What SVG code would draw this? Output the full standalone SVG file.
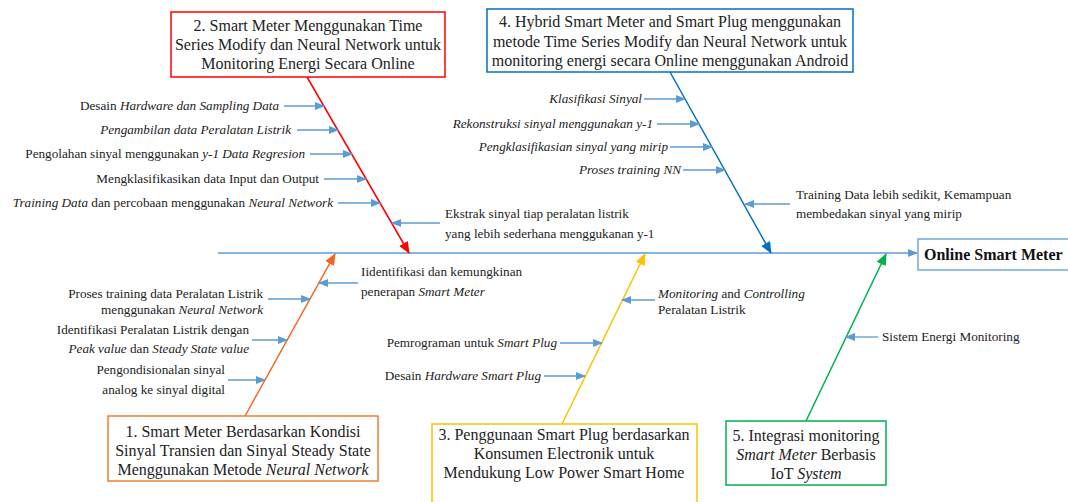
<svg xmlns="http://www.w3.org/2000/svg" width="1068" height="502" viewBox="0 0 1068 502">
<defs>
<style>
.box{fill:#fff;stroke-width:1.5}
.bt{font-family:"Liberation Serif","Times New Roman",serif;font-size:16px;fill:#222;text-anchor:middle}
.rt{font-family:"Liberation Serif","Times New Roman",serif;font-size:13.2px;fill:#222}
.end{text-anchor:end}
.i{font-style:italic}
.rib{stroke:#5B9BD5;stroke-width:1.3;fill:none;marker-end:url(#ah)}
</style>
<marker id="ah" markerUnits="userSpaceOnUse" markerWidth="10" markerHeight="8" refX="9" refY="4" orient="auto"><path d="M0,0 L10,4 L0,8 Z" fill="#5B9BD5"/></marker>
<marker id="aR" markerUnits="userSpaceOnUse" markerWidth="12" markerHeight="10" refX="11" refY="5" orient="auto"><path d="M0,0 L12,5 L0,10 Z" fill="#FF0000"/></marker>
<marker id="aB" markerUnits="userSpaceOnUse" markerWidth="12" markerHeight="10" refX="11" refY="5" orient="auto"><path d="M0,0 L12,5 L0,10 Z" fill="#0070C0"/></marker>
<marker id="aO" markerUnits="userSpaceOnUse" markerWidth="12" markerHeight="10" refX="11" refY="5" orient="auto"><path d="M0,0 L12,5 L0,10 Z" fill="#F26522"/></marker>
<marker id="aY" markerUnits="userSpaceOnUse" markerWidth="12" markerHeight="10" refX="11" refY="5" orient="auto"><path d="M0,0 L12,5 L0,10 Z" fill="#FFC000"/></marker>
<marker id="aG" markerUnits="userSpaceOnUse" markerWidth="12" markerHeight="10" refX="11" refY="5" orient="auto"><path d="M0,0 L12,5 L0,10 Z" fill="#00B050"/></marker>
</defs>
<rect width="1068" height="502" fill="#fff"/>

<g id="connectors">
<line x1="218" y1="253" x2="917" y2="253" class="rib"/>
<line x1="307" y1="77" x2="409" y2="253" stroke="#FF0000" stroke-width="1.5" marker-end="url(#aR)"/>
<line x1="670" y1="72" x2="771" y2="253" stroke="#0070C0" stroke-width="1.5" marker-end="url(#aB)"/>
<line x1="245" y1="416" x2="335" y2="254" stroke="#F26522" stroke-width="1.5" marker-end="url(#aO)"/>
<line x1="562" y1="424" x2="645" y2="254" stroke="#FFC000" stroke-width="1.5" marker-end="url(#aY)"/>
<line x1="806" y1="421" x2="886" y2="254" stroke="#00B050" stroke-width="1.5" marker-end="url(#aG)"/>
<line x1="284" y1="106" x2="324" y2="106" class="rib"/>
<line x1="297" y1="130" x2="338" y2="130" class="rib"/>
<line x1="310" y1="154" x2="352" y2="154" class="rib"/>
<line x1="324" y1="179" x2="366" y2="179" class="rib"/>
<line x1="338" y1="203" x2="380" y2="203" class="rib"/>
<line x1="440" y1="223" x2="392" y2="223" class="rib"/>
<line x1="644" y1="99" x2="685" y2="99" class="rib"/>
<line x1="657" y1="124" x2="699" y2="124" class="rib"/>
<line x1="670" y1="147" x2="712" y2="147" class="rib"/>
<line x1="683" y1="170" x2="725" y2="170" class="rib"/>
<line x1="790" y1="204" x2="745" y2="204" class="rib"/>
<line x1="268" y1="299" x2="310" y2="299" class="rib"/>
<line x1="252" y1="340" x2="287" y2="340" class="rib"/>
<line x1="228" y1="380" x2="265" y2="380" class="rib"/>
<line x1="358" y1="283" x2="319" y2="283" class="rib"/>
<line x1="655" y1="300" x2="622" y2="300" class="rib"/>
<line x1="560" y1="343" x2="602" y2="343" class="rib"/>
<line x1="544" y1="376" x2="585" y2="376" class="rib"/>
<line x1="878" y1="337" x2="846" y2="337" class="rib"/>
</g>

<g id="node-2">
<rect class="box" x="171" y="12" width="274" height="65" stroke="#FF0000"/>
<text class="bt" x="308" y="31">2. Smart Meter Menggunakan Time</text>
<text class="bt" x="308" y="50">Series Modify dan Neural Network untuk</text>
<text class="bt" x="308" y="69">Monitoring Energi Secara Online</text>
</g>
<g id="node-4">
<rect class="box" x="487" y="9" width="366" height="63" stroke="#0070C0"/>
<text class="bt" x="670" y="27">4. Hybrid Smart Meter and Smart Plug menggunakan</text>
<text class="bt" x="670" y="47">metode Time Series Modify dan Neural Network untuk</text>
<text class="bt" x="670" y="66">monitoring energi secara Online menggunakan Android</text>
</g>
<g id="node-1">
<rect class="box" x="108" y="416" width="270" height="65" stroke="#ED7D31"/>
<text class="bt" x="243" y="437">1. Smart Meter Berdasarkan Kondisi</text>
<text class="bt" x="243" y="456">Sinyal Transien dan Sinyal Steady State</text>
<text class="bt" x="243" y="475">Menggunakan Metode <tspan class="i">Neural Network</tspan></text>
</g>
<g id="node-3">
<rect class="box" x="432" y="424" width="265" height="80" stroke="#FFC000"/>
<text class="bt" x="564" y="440">3. Penggunaan Smart Plug berdasarkan</text>
<text class="bt" x="564" y="459">Konsumen Electronik untuk</text>
<text class="bt" x="564" y="478">Mendukung Low Power Smart Home</text>
</g>
<g id="node-5">
<rect class="box" x="726" y="421" width="160" height="64" stroke="#00B050"/>
<text class="bt" x="806" y="441">5. Integrasi monitoring</text>
<text class="bt" x="806" y="460"><tspan class="i">Smart Meter</tspan> Berbasis</text>
<text class="bt" x="806" y="479">IoT <tspan class="i">System</tspan></text>
</g>
<g id="node-head">
<rect x="918" y="239" width="152" height="31" fill="#fff" stroke="#5B9BD5" stroke-width="1.3"/>
<text x="924" y="260" font-family="Liberation Serif, Times New Roman, serif" font-size="16" font-weight="bold" fill="#111">Online Smart Meter</text>
</g>

<g id="labels">
<text class="rt end" x="279" y="110">Desain <tspan class="i">Hardware dan Sampling Data</tspan></text>
<text class="rt end i" x="291" y="134">Pengambilan data Peralatan Listrik</text>
<text class="rt end" x="305" y="158">Pengolahan sinyal menggunakan <tspan class="i">y-1 Data Regresion</tspan></text>
<text class="rt end" x="319" y="183">Mengklasifikasikan data Input dan Output</text>
<text class="rt end" x="333" y="207"><tspan class="i">Training Data</tspan> dan percobaan menggunakan <tspan class="i">Neural Network</tspan></text>
<text class="rt" x="445" y="218">Ekstrak sinyal tiap peralatan listrik</text>
<text class="rt" x="445" y="238">yang lebih sederhana menggukanan y-1</text>

<text class="rt end i" x="642" y="103">Klasifikasi Sinyal</text>
<text class="rt end i" x="653" y="128">Rekonstruksi sinyal menggunakan y-1</text>
<text class="rt end i" x="668" y="151">Pengklasifikasian sinyal yang mirip</text>
<text class="rt end i" x="681" y="174">Proses training NN</text>
<text class="rt" x="796" y="199">Training Data lebih sedikit, Kemampuan</text>
<text class="rt" x="796" y="218">membedakan sinyal yang mirip</text>

<text class="rt end" x="263" y="298">Proses training data Peralatan Listrik</text>
<text class="rt end" x="263" y="314">menggunakan <tspan class="i">Neural Network</tspan></text>
<text class="rt end" x="249" y="334">Identifikasi Peralatan Listrik dengan</text>
<text class="rt end" x="249" y="353"><tspan class="i">Peak value</tspan> dan <tspan class="i">Steady State value</tspan></text>
<text class="rt end" x="225" y="374">Pengondisionalan sinyal</text>
<text class="rt end" x="225" y="394">analog ke sinyal digital</text>
<text class="rt" x="361" y="276">Iidentifikasi dan kemungkinan</text>
<text class="rt" x="361" y="296">penerapan <tspan class="i">Smart Meter</tspan></text>

<text class="rt" x="658" y="298"><tspan class="i">Monitoring</tspan> and <tspan class="i">Controlling</tspan></text>
<text class="rt" x="658" y="314">Peralatan Listrik</text>
<text class="rt end" x="557" y="347">Pemrograman untuk <tspan class="i">Smart Plug</tspan></text>
<text class="rt end" x="541" y="380">Desain <tspan class="i">Hardware Smart Plug</tspan></text>

<text class="rt" x="882" y="341">Sistem Energi Monitoring</text>
</g>
</svg>
